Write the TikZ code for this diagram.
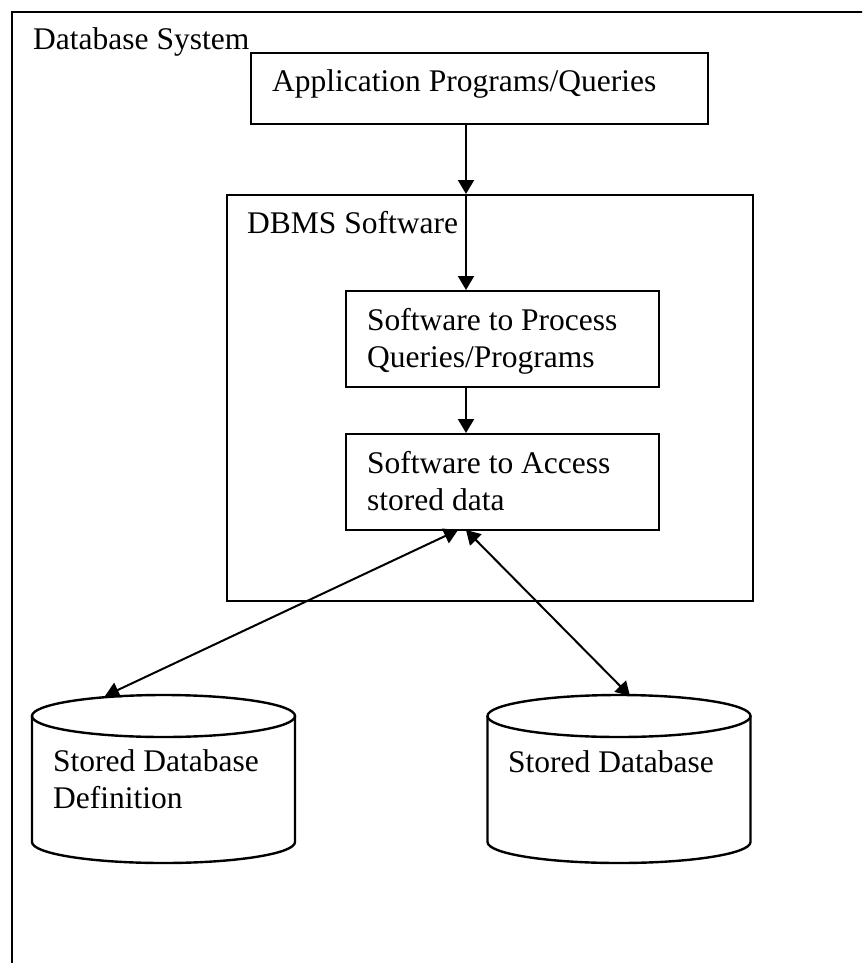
\documentclass[tikz,border=0pt]{standalone}
\usepackage{fontspec}
\setmainfont{Liberation Serif}
\usetikzlibrary{arrows.meta}
\begin{document}
\begin{tikzpicture}[x=1pt, y=-1pt,
  frame/.style={draw, line width=2.4pt, rectangle, inner sep=0pt, anchor=north west},
  label/.style={anchor=base west, inner sep=0pt, font=\fontsize{31.5}{37}\selectfont},
  link/.style={line width=2pt, -{Triangle[width=16pt,length=14pt]}},
  duplex/.style={line width=2pt, {Triangle[width=16pt,length=14pt]}-{Triangle[width=16pt,length=14pt]}},
  drum/.style={line width=2.4pt}]
  \useasboundingbox (0,0) rectangle (862,963);
  \fill[white] (0,0) rectangle (862,963);
  \clip (0,0) rectangle (862,963);

  % outer system frame (runs off the page on the right and at the bottom)
  \node[frame, minimum width=900pt, minimum height=1000pt] (sys) at (11,11) {};
  \node[label] (systxt) at (33,50) {Database System};

  % application layer
  \node[frame, minimum width=457pt, minimum height=71pt] (app) at (250,52) {};
  \node[label] (apptxt) at (272,92) {Application Programs/Queries};

  % DBMS software block
  \node[frame, minimum width=526pt, minimum height=406pt] (dbms) at (226,194) {};
  \node[label] (dbmstxt) at (247,233) {DBMS Software};

  \node[frame, minimum width=313pt, minimum height=96pt] (proc) at (345,290) {};
  \node[label] (proc1) at (367,330) {Software to Process};
  \node[label] (proc2) at (367,367) {Queries/Programs};

  \node[frame, minimum width=313pt, minimum height=96pt] (acc) at (345,433) {};
  \node[label] (acc1) at (367,473) {Software to Access};
  \node[label] (acc2) at (367,510) {stored data};

  % disk cylinders
  \foreach \cx/\nm in {163.5/defn, 619/store} {
    \node[inner sep=0pt, minimum width=263pt, minimum height=168pt, anchor=north] (\nm) at (\cx,695) {};
    \draw[drum] (\cx,716) ellipse [x radius=131.5pt, y radius=21pt];
    \draw[drum] (\cx-131.5,716) -- (\cx-131.5,842)
      arc[start angle=180, end angle=360, x radius=131.5pt, y radius=21pt]
      -- (\cx+131.5,716);
  }
  \node[label] (defn1) at (53,771) {Stored Database};
  \node[label] (defn2) at (53,808) {Definition};
  \node[label] (storetxt) at (508,772) {Stored Database};

  % connector attachment points
  \coordinate (axis) at (466,0);
  \coordinate (accL) at (458,530);
  \coordinate (accR) at (466,530);
  \coordinate (defnTop) at (105,696);
  \coordinate (storeTop) at (630,696);

  % connectors
  \draw[link] (app.south -| axis) -- (dbms.north -| axis);
  \draw[link] (dbms.north -| axis) -- (proc.north -| axis);
  \draw[link] (proc.south -| axis) -- (acc.north -| axis);
  \draw[duplex] (accL) -- (defnTop);
  \draw[duplex] (accR) -- (storeTop);
\end{tikzpicture}
\end{document}
